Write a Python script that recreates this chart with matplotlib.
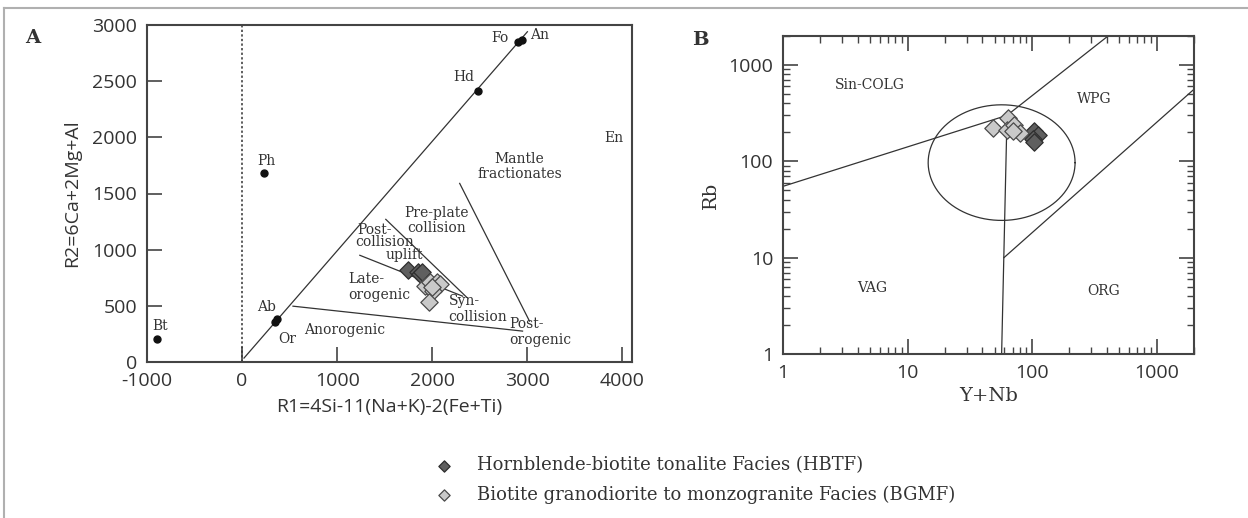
import matplotlib
matplotlib.use("Agg")
import matplotlib.pyplot as plt
from matplotlib.lines import Line2D
import numpy as np

plt.rcParams["axes.unicode_minus"] = False

# ---------------- data: panel A (R1-R2 diagram) ----------------
hbtf_r1 = [1742, 1847, 1868, 1889]
hbtf_r2 = [817, 799, 781, 799]
bgmf_r1 = [1920, 1973, 2046, 2078, 2004, 1962, 1994]
bgmf_r2 = [675, 710, 710, 693, 631, 533, 666]

mineral_names = ["Bt", "Ph", "Ab", "Or", "Hd", "Fo", "An"]
mineral_r1 = [-890, 230, 370, 345, 2480, 2905, 2940]
mineral_r2 = [205, 1680, 380, 355, 2415, 2850, 2870]

diagonal_r1 = [20, 3000]
diagonal_r2 = [35, 2940]
boundary_r1 = [[535, 2949], [1238, 2319], [1511, 2361], [2288, 3022]]
boundary_r2 = [[497, 275], [950, 586], [1270, 577], [1590, 364]]

field_names_a = ["Mantle\nfractionates", "Pre-plate\ncollision", "Post-", "collision",
                 "uplift", "Late-\norogenic", "Syn-\ncollision", "Post-\norogenic",
                 "Anorogenic", "En"]
field_r1 = [2917, 2046, 1207, 1500, 1710, 1112, 2172, 2812, 1081, 3914]
field_r2 = [1741, 1261, 1172, 1066, 950, 666, 471, 266, 284, 1990]

# ---------------- data: panel B (Rb vs Y+Nb) ----------------
hbtf_ynb = [104, 112, 101, 103]
hbtf_rb = [206, 187, 170, 159]
bgmf_ynb = [49, 64, 63, 72, 80, 71]
bgmf_rb = [224, 282, 212, 237, 199, 206]

vertical_ynb = [57, 63]
vertical_rb = [1, 300]
left_ynb = [1, 63]
left_rb = [55, 300]
upper_ynb = [63, 408]
upper_rb = [300, 2000]
lower_ynb = [59.5, 2000]
lower_rb = [10, 560]
# ellipse in log space: centre (Y+Nb, Rb) and half axes in decades
ellipse_centre = [57, 97]
ellipse_half_axes = [0.59, 0.60]

field_names_b = ["Sin-COLG", "WPG", "VAG", "ORG"]
field_ynb = [5.0, 314, 5.2, 376]
field_rb = [620, 443, 4.8, 4.46]

legend_labels = ["Hornblende-biotite tonalite Facies (HBTF)",
                 "Biotite granodiorite to monzogranite Facies (BGMF)"]

# ---------------- style ----------------
W, H = 1248, 518
INK = "#333333"
SANS = "Open Sans"
SERIF = "DejaVu Serif"
DARK = dict(marker="D", s=78, facecolor="#5f5f5f", edgecolor="#2e2e2e", linewidth=0.9, zorder=5)
LIGHT = dict(marker="D", s=78, facecolor="#c9c9c9", edgecolor="#4a4a4a", linewidth=0.9, zorder=5)


def frac(x0, y0, x1, y1):
    return [x0 / W, 1 - y1 / H, (x1 - x0) / W, (y1 - y0) / H]


def style_axes(ax):
    for sp in ax.spines.values():
        sp.set_color("#444444")
        sp.set_linewidth(1.5)
    ax.tick_params(which="both", direction="in", colors="#444444", labelcolor=INK,
                   labelsize=14)
    for lab in ax.get_xticklabels() + ax.get_yticklabels():
        lab.set_family(SANS)


fig = plt.figure(figsize=(W / 100, H / 100), dpi=100)

# frame around the figure (left and top edges are visible)
fig.add_artist(Line2D([4 / W, 4 / W], [0, 1 - 8 / H], transform=fig.transFigure,
                      color="#b0b0b0", lw=1.5))
fig.add_artist(Line2D([4 / W, 1], [1 - 8 / H, 1 - 8 / H], transform=fig.transFigure,
                      color="#b0b0b0", lw=1.5))

# ---------------- panel A ----------------
ax = fig.add_axes(frac(147, 25, 632, 362))
ax.set_xlim(-1000, 4100)
ax.set_ylim(0, 3000)
ax.set_xticks([-1000, 0, 1000, 2000, 3000, 4000])
ax.set_yticks([0, 500, 1000, 1500, 2000, 2500, 3000])
ax.tick_params(axis="both", length=11, width=1.2, pad=7)
style_axes(ax)

ax.axvline(0, color=INK, lw=1.1, ls=(0, (1.5, 1.5)))
ax.plot(diagonal_r1, diagonal_r2, color=INK, lw=0.9)
for bx, by in zip(boundary_r1, boundary_r2):
    ax.plot(bx, by, color=INK, lw=0.9)

ax.plot(mineral_r1, mineral_r2, "o", color="#111111", ms=5, zorder=4)
mineral_offsets = {"Bt": (2, 9, "center"), "Ph": (2, 9, "center"), "Ab": (-8, 9, "center"),
                   "Or": (9, -12, "center"), "Hd": (-10, 10, "center"),
                   "Fo": (-7, 3, "right"), "An": (6, 3, "left")}
for name, x, y in zip(mineral_names, mineral_r1, mineral_r2):
    dx, dy, ha = mineral_offsets[name]
    ax.annotate(name, (x, y), xytext=(dx, dy), textcoords="offset points",
                ha=ha, va="center", family=SERIF, fontsize=10, color=INK)

left_fields = {"Late-\norogenic", "Syn-\ncollision", "Post-\norogenic", "Post-"}
for name, x, y in zip(field_names_a, field_r1, field_r2):
    ha = "left" if name in left_fields else "center"
    ax.text(x, y, name, ha=ha, va="center", family=SERIF, fontsize=10, color=INK,
            linespacing=1.15, zorder=6)

ax.scatter(hbtf_r1, hbtf_r2, **DARK)
ax.scatter(bgmf_r1, bgmf_r2, **LIGHT)

ax.set_xlabel("R1=4Si-11(Na+K)-2(Fe+Ti)", family=SANS, fontsize=14, color=INK, labelpad=6)
ax.set_ylabel("R2=6Ca+2Mg+Al", family=SANS, fontsize=14, color=INK, labelpad=8)
fig.text(33 / W, 1 - 38 / H, "A", family=SERIF, fontsize=14, fontweight="bold",
         color=INK, ha="center", va="center")

# ---------------- panel B ----------------
bx_ = fig.add_axes(frac(783, 36, 1194, 354))
bx_.set_xscale("log")
bx_.set_yscale("log")
bx_.set_xlim(1, 2000)
bx_.set_ylim(1, 2000)
bx_.set_xticks([1, 10, 100, 1000], ["1", "10", "100", "1000"])
bx_.set_yticks([1, 10, 100, 1000], ["1", "10", "100", "1000"])
bx_.tick_params(which="major", length=11, width=1.2, top=True, right=True, pad=7)
bx_.tick_params(which="minor", length=5, width=1.0, top=True, right=True)
style_axes(bx_)

for xs, ys in [(vertical_ynb, vertical_rb), (left_ynb, left_rb),
               (upper_ynb, upper_rb), (lower_ynb, lower_rb)]:
    bx_.plot(xs, ys, color=INK, lw=0.9)

t = np.linspace(0, 2 * np.pi, 300)
ex = 10 ** (np.log10(ellipse_centre[0]) + ellipse_half_axes[0] * np.cos(t))
ey = 10 ** (np.log10(ellipse_centre[1]) + ellipse_half_axes[1] * np.sin(t))
bx_.plot(ex, ey, color=INK, lw=0.9)

for name, x, y in zip(field_names_b, field_ynb, field_rb):
    bx_.text(x, y, name, ha="center", va="center", family=SERIF, fontsize=10, color=INK)

h1 = bx_.scatter(hbtf_ynb, hbtf_rb, **DARK)
h2 = bx_.scatter(bgmf_ynb, bgmf_rb, **LIGHT)

bx_.set_xlabel("Y+Nb", family=SERIF, fontsize=14, color=INK, labelpad=4)
bx_.set_ylabel("Rb", family=SERIF, fontsize=14, color=INK, labelpad=6)
fig.text(700 / W, 1 - 40 / H, "B", family=SERIF, fontsize=14, fontweight="bold",
         color=INK, ha="center", va="center")

# ---------------- legend ----------------
leg = fig.legend([h1, h2], legend_labels, loc="upper left",
                 bbox_to_anchor=(410 / W, 1 - 440 / H), frameon=False,
                 markerscale=0.65, handletextpad=0.8, labelspacing=0.62,
                 prop={"family": SERIF, "size": 13})
for txt in leg.get_texts():
    txt.set_color(INK)

fig.savefig("out.png", dpi=100)
